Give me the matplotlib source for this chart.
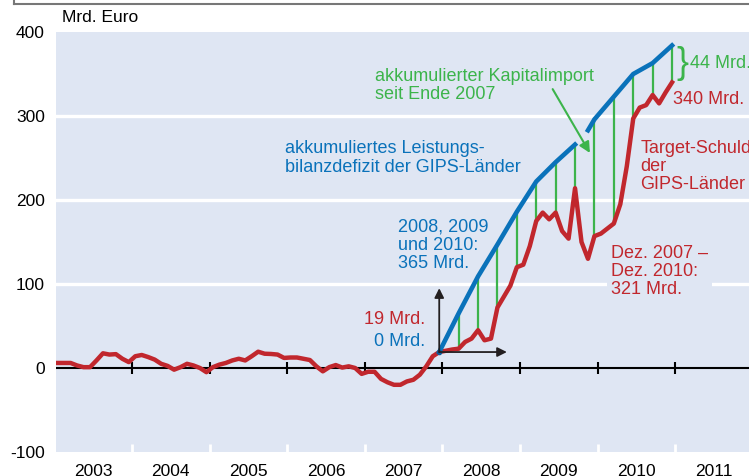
import numpy as np
import matplotlib
matplotlib.use("Agg")
import matplotlib.pyplot as plt
from matplotlib.lines import Line2D

plt.rcParams['font.family'] = ['Liberation Sans', 'DejaVu Sans']

# Target balances of the GIPS countries, monthly Jan 2003 - Dec 2010 (bn EUR)
target_debt = [
    6, 6, 6, 3, 1, 1, 9, 17.5, 16, 16.5, 11, 7,                 # 2003
    14, 15.5, 13, 10, 5, 2.5, -2, 1, 5, 3, 0, -5,               # 2004
    1, 4, 6, 9, 11, 9, 14, 19.4, 17, 16.7, 16, 12,              # 2005
    12.5, 12.5, 11, 9.5, 2, -4, 1, 3.5, 0.5, 2, 0, -7,          # 2006
    -4.5, -4.5, -13, -17, -20, -20, -16, -14, -8, 2, 14, 19,    # 2007
    20.5, 22, 23, 31, 35, 45, 33, 35, 72, 85, 98, 120,          # 2008
    123, 145, 175, 185, 177, 185, 163, 154, 214, 150, 130, 157, # 2009
    160, 166, 172, 195, 240, 297, 310, 313, 325, 315, 328, 340, # 2010
]

# accumulated current account deficit since end 2007 (month index, bn EUR)
cad_months_1 = [59, 62, 65, 68, 71, 74, 77, 80]
cad_values_1 = [19, 65, 109, 147, 186, 222, 245, 266]
cad_months_2 = [82, 83, 86, 89, 92, 95]
cad_values_2 = [283, 296, 323, 350, 363, 384]

# quarter ends where the capital import is shown
quarter_months = [62, 65, 68, 71, 74, 77, 80, 83, 86, 89, 92, 95]

years = list(range(2003, 2012))

bg = '#dfe6f3'
red = '#c1272d'
blue = '#0a72ba'
green = '#3cb44b'


def month_pos(m):
    return 2003 + (np.asarray(m) + 0.5) / 12.0


fig = plt.figure(figsize=(7.49, 4.76), dpi=100)
ax = fig.add_axes([56 / 749, 24 / 476, 693 / 749, 420 / 476])
ax.set_facecolor(bg)
ax.set_xlim(2003.02, 2011.95)
ax.set_ylim(-100, 400)
for s in ax.spines.values():
    s.set_visible(False)

# white grid lines
for v in [100, 200, 300]:
    ax.axhline(v, color='white', lw=2.4, zorder=1)
for y in years[1:]:
    ax.plot([y, y], [-100, -91], color='white', lw=2, zorder=1, solid_capstyle='butt')

# zero line with year ticks
ax.axhline(0, color='black', lw=1.5, zorder=2)
ax.vlines(years, -7, 7, color='black', lw=1.5, zorder=2)

red_x = month_pos(np.arange(len(target_debt)))
red_y = np.array(target_debt)

# green capital import lines
cad_all = dict(zip(cad_months_1 + cad_months_2, cad_values_1 + cad_values_2))
for m in quarter_months:
    ax.plot([month_pos(m)] * 2, [red_y[m], cad_all[m]], color=green, lw=1.6, zorder=3)

ax.plot(red_x, red_y, color=red, lw=3.2, zorder=4, solid_joinstyle='round')
ax.plot(month_pos(cad_months_1), cad_values_1, color=blue, lw=3.3, zorder=5)
ax.plot(month_pos(cad_months_2), cad_values_2, color=blue, lw=3.3, zorder=5)
ax.plot(month_pos(cad_months_1[0]), cad_values_1[0], 'o', color='#0b5a9a', ms=3, zorder=6)

# black arrows from start point
x0 = month_pos(59)
ax.annotate('', xy=(x0, 95), xytext=(x0, red_y[59]),
            arrowprops=dict(arrowstyle='-|>', color='#231f20', lw=1.3,
                            mutation_scale=14, shrinkA=0, shrinkB=0), zorder=6)
ax.annotate('', xy=(2008.83, red_y[59]), xytext=(x0, red_y[59]),
            arrowprops=dict(arrowstyle='-|>', color='#231f20', lw=1.3,
                            mutation_scale=14, shrinkA=0, shrinkB=0), zorder=6)

# green arrow
ax.annotate('', xy=(2009.90, 256), xytext=(2009.42, 332),
            arrowprops=dict(arrowstyle='-|>', color=green, lw=1.5,
                            mutation_scale=16, shrinkA=0, shrinkB=0), zorder=6)

fs = 13
ls = 1.1
ax.text(2007.13, 336, 'akkumulierter Kapitalimport\nseit Ende 2007', color=green,
        fontsize=fs, va='center', ha='left', linespacing=ls)
ax.text(2005.97, 250, 'akkumuliertes Leistungs-\nbilanzdefizit der GIPS-Länder', color=blue,
        fontsize=fs, va='center', ha='left', linespacing=ls)
ax.text(2007.43, 146, '2008, 2009\nund 2010:\n365 Mrd.', color=blue,
        fontsize=fs, va='center', ha='left', linespacing=ls)
ax.text(2007.78, 58, '19 Mrd.', color=red, fontsize=fs, va='center', ha='right')
ax.text(2007.78, 31, '0 Mrd.', color=blue, fontsize=fs, va='center', ha='right')
ax.text(2010.55, 240, 'Target-Schuld\nder\nGIPS-Länder', color=red,
        fontsize=fs, va='center', ha='left', linespacing=ls)
ax.text(2010.97, 320, '340 Mrd.', color=red, fontsize=fs, va='center', ha='left')
ax.text(2011.19, 362, '44 Mrd.', color=green, fontsize=fs, va='center', ha='left')
ax.text(2011.02, 362, '}', color=green, fontsize=26, va='center', ha='left')
ax.text(2010.17, 115, 'Dez. 2007 –\nDez. 2010:\n321 Mrd.', color=red,
        fontsize=fs, va='center', ha='left', linespacing=ls,
        bbox=dict(facecolor=bg, edgecolor='none', pad=3))

# axes ticks
ax.set_yticks([-100, 0, 100, 200, 300, 400])
ax.set_yticklabels(['-100', '0', '100', '200', '300', '400'])
ax.set_xticks([y + 0.5 for y in years])
ax.set_xticklabels([str(y) for y in years])
ax.tick_params(axis='both', length=0, labelsize=12.5, colors='black')
ax.tick_params(axis='y', pad=8)
ax.tick_params(axis='x', pad=9)

fig.text(62 / 749, 1 - 18 / 476, 'Mrd. Euro', fontsize=12.5, va='center', ha='left')

# grey frame line at the top
fig.add_artist(Line2D([14 / 749, 1], [1 - 4 / 476, 1 - 4 / 476], color='#777777', lw=1.5,
                      transform=fig.transFigure))
fig.add_artist(Line2D([14 / 749, 14 / 749], [1 - 4 / 476, 1], color='#777777', lw=1.5,
                      transform=fig.transFigure))

fig.savefig('out.png', dpi=100)
